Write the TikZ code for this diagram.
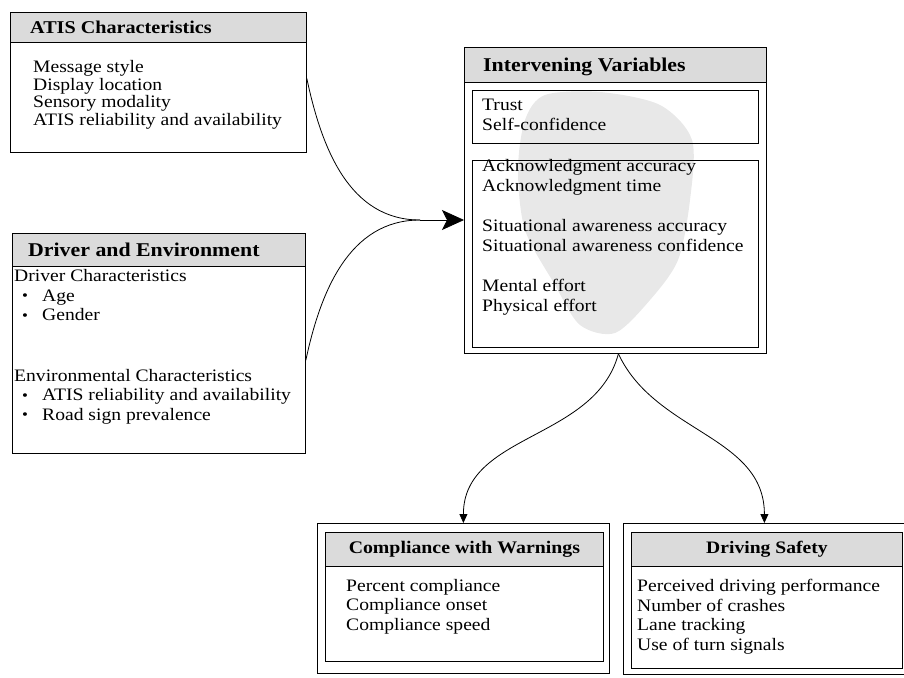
\documentclass[tikz,border=0pt]{standalone}
\usepackage{fontspec}
\setmainfont{Liberation Serif}[FakeStretch=1.12]
\usetikzlibrary{arrows.meta,calc}

\newcommand{\diagfont}{\fontsize{17.5pt}{19.5pt}\selectfont}
\newcommand{\itm}{\hspace*{8pt}\makebox[20pt][l]{\raisebox{0.5pt}{\fontsize{15pt}{15pt}\selectfont\textbullet}}}

\tikzset{
  frame/.style={draw, line width=0.8pt, inner sep=0pt, anchor=north west},
  headbox/.style={frame, fill=gray!28},
  title/.style={font=\fontsize{#1}{#1}\selectfont\bfseries, inner sep=0pt},
  title/.default=18pt,
  txt/.style={align=left, inner sep=0pt, anchor=north west, font=\diagfont},
  link/.style={line width=0.8pt},
  tip/.style={link, -{Triangle[length=9pt,width=8pt]}}
}

\begin{document}
\begin{tikzpicture}[x=1pt, y=1pt]
  \useasboundingbox (0,0) rectangle (904,-677);

  % shaded patch behind the intervening variables
  \fill[gray!18] plot[smooth cycle] coordinates {(545,-95) (600,-92) (660,-105) (692,-140) (690,-200) (678,-260) (650,-300) (615,-333) (580,-325) (555,-285) (525,-230) (518,-170) (525,-120)};

  % ATIS characteristics
  \node[headbox, minimum width=296pt, minimum height=30pt] (atishead) at (10,-12) {};
  \node[frame, minimum width=296pt, minimum height=140pt] (atis) at (10,-12) {};
  \node[title, anchor=west] (atistitle) at (30,-27) {ATIS Characteristics};
  \node[txt, font=\fontsize{17.5pt}{17.5pt}\selectfont] (atislist) at (33,-60.5) {Message style\\Display location\\Sensory modality\\ATIS reliability and availability};

  % driver and environment
  \node[headbox, minimum width=293pt, minimum height=33pt] (drvhead) at (12,-233) {};
  \node[frame, minimum width=293pt, minimum height=220pt] (drv) at (12,-233) {};
  \node[title=19.5pt, anchor=west] (drvtitle) at (28,-250) {Driver and Environment};
  \node[txt] (drvlist) at (14,-269.5) {Driver Characteristics\\\itm Age\\\itm Gender\\[41pt]%
    Environmental Characteristics\\\itm ATIS reliability and availability\\\itm Road sign prevalence};

  % intervening variables
  \node[headbox, minimum width=302pt, minimum height=35pt] (ivhead) at (464,-47) {};
  \node[frame, minimum width=302pt, minimum height=306pt] (iv) at (464,-47) {};
  \node[frame, minimum width=286pt, minimum height=53pt] (ivtop) at (472,-90) {};
  \node[frame, minimum width=286pt, minimum height=187pt] (ivbot) at (472,-160) {};
  \node[title=19.5pt, anchor=west] (ivtitle) at (483,-67) {Intervening Variables};
  \node[txt, font=\fontsize{17.5pt}{20.5pt}\selectfont] (ivtoplist) at (482,-98.5) {Trust\\Self-confidence};
  \node[txt, font=\fontsize{17.5pt}{20pt}\selectfont] (ivbotlist) at (482,-159.5) {Acknowledgment accuracy\\Acknowledgment time\\[20pt]%
    Situational awareness accuracy\\Situational awareness confidence\\[20pt]%
    Mental effort\\Physical effort};

  % compliance with warnings
  \node[frame, minimum width=292pt, minimum height=150pt] (cmp) at (317,-523) {};
  \node[headbox, minimum width=278pt, minimum height=34pt] (cmphead) at (325,-532) {};
  \node[frame, minimum width=278pt, minimum height=95pt] (cmpbody) at (325,-566) {};
  \node[title=17.7pt] (cmptitle) at (cmphead.center) {Compliance with Warnings};
  \node[txt] (cmplist) at (346,-579) {Percent compliance\\Compliance onset\\Compliance speed};

  % driving safety
  \node[frame, minimum width=290pt, minimum height=151pt] (dsf) at (623,-523) {};
  \node[headbox, minimum width=271pt, minimum height=34pt] (dshead) at (631,-532) {};
  \node[frame, minimum width=271pt, minimum height=102pt] (dsbody) at (631,-566) {};
  \node[title=17.5pt] (dstitle) at (dshead.center) {Driving Safety};
  \node[txt] (dslist) at (637,-579) {Perceived driving performance\\Number of crashes\\Lane tracking\\Use of turn signals};

  % connectors
  \coordinate (merge) at (420,-220);
  \draw[link] ([yshift=4pt]atis.east) to[out=-78, in=180] (merge);
  \draw[link] ([yshift=-17pt]drv.east) to[out=78, in=180] (merge);
  \draw[link, -{Stealth[length=22pt, width=20pt, inset=5pt]}] (merge) -- (merge -| iv.west);
  \draw[tip] ([xshift=3pt]iv.south) to[out=-105, in=90] (cmp.north);
  \draw[tip] ([xshift=3pt]iv.south) to[out=-65, in=90] ([xshift=-4pt]dsf.north);
\end{tikzpicture}
\end{document}
